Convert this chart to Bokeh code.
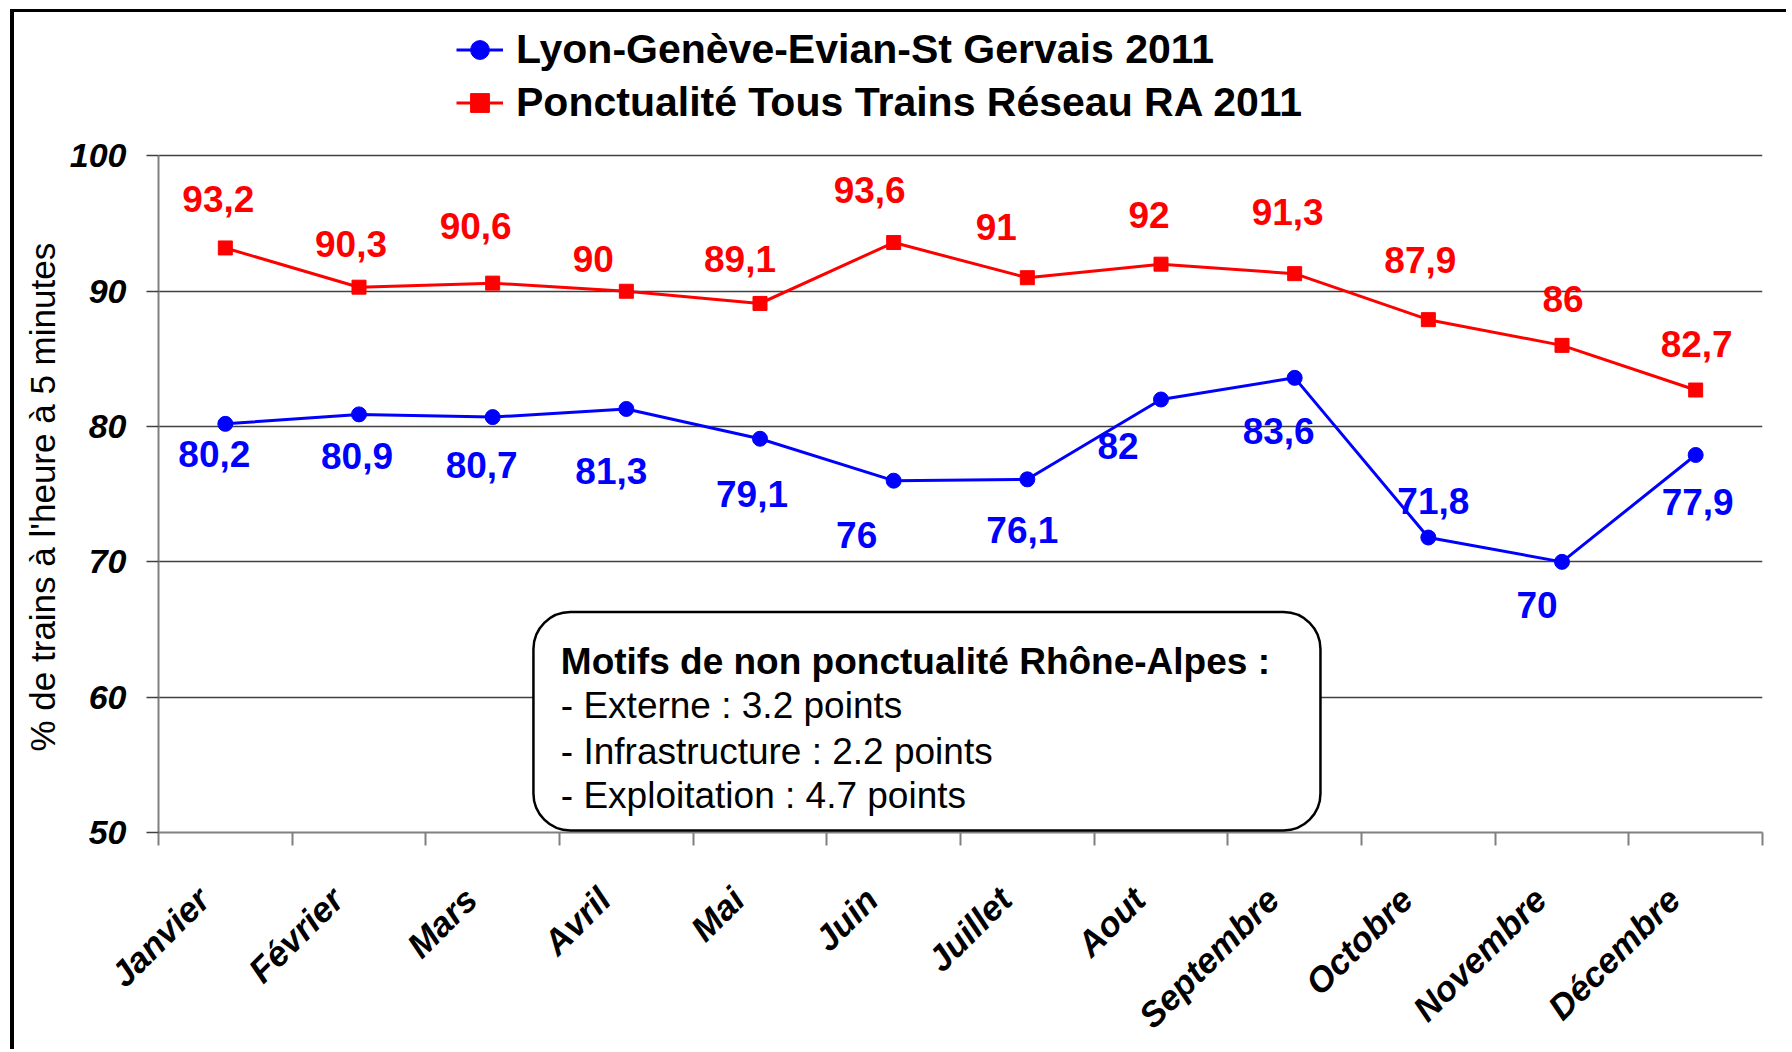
import numpy as np
from math import pi
from bokeh.plotting import figure
from bokeh.models import (ColumnDataSource, Range1d, FixedTicker, LabelSet, Label,
                          Legend, LegendItem, BoxAnnotation, Title)
from bokeh.core.properties import value
from bokeh.embed import file_html
from bokeh.resources import INLINE

# ---------------- data ----------------
months = ["Janvier", "Février", "Mars", "Avril", "Mai", "Juin", "Juillet",
          "Aout", "Septembre", "Octobre", "Novembre", "Décembre"]
lyon_geneve = [80.2, 80.9, 80.7, 81.3, 79.1, 76, 76.1, 82, 83.6, 71.8, 70, 77.9]
reseau_ra = [93.2, 90.3, 90.6, 90, 89.1, 93.6, 91, 92, 91.3, 87.9, 86, 82.7]
y_ticks = [50, 60, 70, 80, 90, 100]
series_names = ["Lyon-Genève-Evian-St Gervais 2011",
                "Ponctualité Tous Trains Réseau RA 2011"]
y_title = "% de trains à l'heure à 5 minutes"
note_title = "Motifs de non ponctualité Rhône-Alpes :"
note_lines = ["- Externe : 3.2 points",
              "- Infrastructure : 2.2 points",
              "- Exploitation : 4.7 points"]

# ---------------- styles / label placement (screen px) ----------------
FONT = "Liberation Sans"
BLUE = "#0000FF"
RED = "#FF0000"
red_dx = [-7, -8, -17, -33, -20, -24, -31, -12, -7, -8, 1, 1]
red_dy = [49, 43, 57, 32, 44, 53, 51, 49, 62, 60, 46, 46]
blue_dx = [-11, -2, -11, -15, -8, -37, -5, -43, -16, 5, -25, 2]
blue_dy = [-30, -42, -48, -62, -55, -54, -51, -47, -53, 37, -43, -47]
LABEL_SHIFT = 0.165   # month labels sit a little left of the category centre
Y_TOP = 110.6         # room above 100 for the legend


def fmt(v):
    return f"{v:g}".replace(".", ",")


x = np.arange(len(months)) + 0.5

p = figure(width=1776, height=1040,
           x_range=Range1d(0, len(months)), y_range=Range1d(50, Y_TOP),
           output_backend="svg", toolbar_location=None,
           min_border_left=144, min_border_right=28,
           min_border_top=0, min_border_bottom=220)
p.margin = (9, 0, 0, 10)
p.styles = {"border-left": "4px solid black", "border-top": "3px solid black"}
p.outline_line_color = None
p.background_fill_color = "white"
p.border_fill_color = "white"

src_b = ColumnDataSource(dict(x=x, y=lyon_geneve, lab=[fmt(v) for v in lyon_geneve],
                              dx=blue_dx, dy=blue_dy))
src_r = ColumnDataSource(dict(x=x, y=reseau_ra, lab=[fmt(v) for v in reseau_ra],
                              dx=red_dx, dy=red_dy))

rb = p.line("x", "y", source=src_b, line_color=BLUE, line_width=3)
sb = p.scatter("x", "y", source=src_b, marker="circle", size=15,
               fill_color=BLUE, line_color=BLUE)
rr = p.line("x", "y", source=src_r, line_color=RED, line_width=3)
sr = p.scatter("x", "y", source=src_r, marker="square", size=14,
               fill_color=RED, line_color=RED)

for src, col in ((src_b, BLUE), (src_r, RED)):
    p.add_layout(LabelSet(x="x", y="y", text="lab", x_offset="dx", y_offset="dy",
                          source=src, text_font=value(FONT), text_font_size="37px",
                          text_font_style="bold", text_color=col,
                          text_align="center", text_baseline="middle"))

# axes
label_pos = [float(v) - LABEL_SHIFT for v in x]
xa = p.xaxis[0]
xa.ticker = FixedTicker(ticks=label_pos, minor_ticks=list(range(len(months) + 1)))
xa.major_label_overrides = {v: m for v, m in zip(label_pos, months)}
xa.major_label_orientation = pi / 4
xa.major_tick_line_color = None
xa.major_tick_out = 0
xa.major_tick_in = 0
xa.minor_tick_out = 13
xa.minor_tick_in = 0
xa.minor_tick_line_color = "#808080"
xa.minor_tick_line_width = 2
xa.axis_line_color = "#808080"
xa.axis_line_width = 2
xa.major_label_text_font = FONT
xa.major_label_text_font_size = "35px"
xa.major_label_text_font_style = "bold italic"
xa.major_label_text_color = "black"
xa.major_label_standoff = 48

ya = p.yaxis[0]
ya.ticker = FixedTicker(ticks=y_ticks)
ya.bounds = (50, 100)
ya.major_tick_out = 12
ya.major_tick_in = 0
ya.major_tick_line_color = "#404040"
ya.major_tick_line_width = 1.5
ya.minor_tick_line_color = None
ya.axis_line_color = "#808080"
ya.axis_line_width = 2
ya.major_label_text_font = FONT
ya.major_label_text_font_size = "34px"
ya.major_label_text_font_style = "bold italic"
ya.major_label_text_color = "black"
ya.major_label_standoff = 20

# y-axis title, anchored at the bottom of the frame so it centres on 50..100
p.add_layout(Title(text=y_title, align="left", offset=81, standoff=10,
                   text_font=FONT, text_font_size="35px", text_font_style="normal",
                   text_color="black"), "left")

p.xgrid.visible = False
p.ygrid.ticker = FixedTicker(ticks=y_ticks)
p.ygrid.grid_line_color = "#404040"
p.ygrid.grid_line_width = 1.5

legend = Legend(items=[LegendItem(label=series_names[0], renderers=[rb, sb]),
                       LegendItem(label=series_names[1], renderers=[rr, sr])],
                location=(298, 703), orientation="vertical",
                padding=0, spacing=0, margin=0,
                glyph_width=47, glyph_height=53, label_height=53,
                label_standoff=13,
                label_text_font=FONT, label_text_font_size="41px",
                label_text_font_style="bold", label_text_color="black",
                border_line_color=None, background_fill_alpha=0)
p.add_layout(legend)

# note box
box = BoxAnnotation(left=2.805, right=8.693, bottom=50.15, top=66.3,
                    fill_color="white", fill_alpha=1.0,
                    line_color="black", line_alpha=1.0, line_width=2.5,
                    border_radius=37, level="overlay")
p.add_layout(box)
note_y = [62.67, 59.41, 56.0, 52.74]
texts = [note_title] + note_lines
for i, (t, yy) in enumerate(zip(texts, note_y)):
    p.add_layout(Label(x=3.01, y=yy, text=t, text_font=FONT, text_font_size="37px",
                       text_font_style="bold" if i == 0 else "normal",
                       text_color="black", text_baseline="middle",
                       text_align="left", level="overlay"))

open("out.html", "w").write(file_html(p, INLINE))
